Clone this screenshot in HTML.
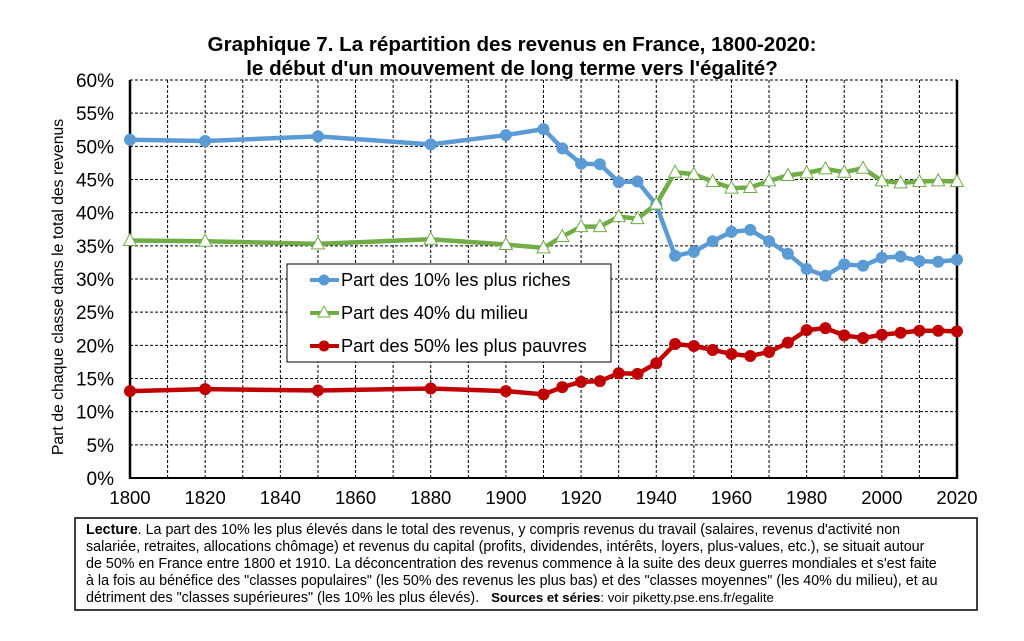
<!DOCTYPE html>
<html><head><meta charset="utf-8"><style>
body{margin:0;background:#fff;}
svg{display:block;font-family:"Liberation Sans",Arial,sans-serif;}
</style></head><body>
<svg id="s" width="1024" height="641" viewBox="0 0 1024 641" xmlns="http://www.w3.org/2000/svg">
<rect width="1024" height="641" fill="#fff"/>
<text x="512" y="51" text-anchor="middle" font-size="20.6" font-weight="bold">Graphique 7. La répartition des revenus en France, 1800-2020:</text>
<text x="512" y="75" text-anchor="middle" font-size="20.6" font-weight="bold">le début d'un mouvement de long terme vers l'égalité?</text>
<text transform="translate(63,287) rotate(-90)" text-anchor="middle" font-size="15.8">Part de chaque classe dans le total des revenus</text>
<g id="grid"></g>
<g id="series"></g>
<rect x="287" y="264" width="324" height="98" fill="#fff" stroke="#000" stroke-width="1"/>
<line x1="310" y1="280" x2="339" y2="280" stroke="#5b9bd5" stroke-width="4"/>
<circle cx="324" cy="280" r="5.5" fill="#5b9bd5"/>
<text x="341" y="286" font-size="18.2">Part des 10% les plus riches</text>
<line x1="310" y1="313" x2="339" y2="313" stroke="#70ad47" stroke-width="4"/>
<polygon points="324,306 330,317 318,317" fill="#fff" stroke="#70ad47" stroke-width="1"/>
<text x="341" y="319" font-size="18.2">Part des 40% du milieu</text>
<line x1="310" y1="346" x2="339" y2="346" stroke="#c00000" stroke-width="4"/>
<circle cx="324" cy="346" r="5.5" fill="#c00000"/>
<text x="341" y="352" font-size="18.2">Part des 50% les plus pauvres</text>
<rect x="75" y="518" width="902" height="92" fill="#fff" stroke="#000" stroke-width="1.5"/>
<g font-size="14.3">
<text x="86" y="534"><tspan font-weight="bold">Lecture</tspan>. La part des 10% les plus élevés dans le total des revenus, y compris revenus du travail (salaires, revenus d'activité non</text>
<text x="86" y="551">salariée, retraites, allocations chômage) et revenus du capital (profits, dividendes, intérêts, loyers, plus-values, etc.), se situait autour</text>
<text x="86" y="568">de 50% en France entre 1800 et 1910. La déconcentration des revenus commence à la suite des deux guerres mondiales et s'est faite</text>
<text x="86" y="585">à la fois au bénéfice des "classes populaires" (les 50% des revenus les plus bas) et des "classes moyennes" (les 40% du milieu), et au</text>
<text x="86" y="602">détriment des "classes supérieures" (les 10% les plus élevés). <tspan font-weight="bold" font-size="13.2" dx="8">Sources et séries</tspan><tspan font-size="13.2">: voir piketty.pse.ens.fr/egalite</tspan></text>
</g>
</svg>
<script>
(function(){
const NS="http://www.w3.org/2000/svg";
const X=y=>130+(y-1800)*827/220, Y=p=>478-p*6.633;
function el(t,a,p){const e=document.createElementNS(NS,t);for(const k in a)e.setAttribute(k,a[k]);p.appendChild(e);return e;}
const g=document.getElementById('grid');
for(let p=5;p<=60;p+=5)el('line',{x1:130,x2:957,y1:Y(p),y2:Y(p),stroke:'#000','stroke-width':1,'stroke-dasharray':'3,2'},g);
for(let y=1810;y<2020;y+=10)el('line',{x1:X(y),x2:X(y),y1:Y(60),y2:478,stroke:'#000','stroke-width':1,'stroke-dasharray':'3,2'},g);
el('line',{x1:130,x2:130,y1:Y(60),y2:479,stroke:'#000','stroke-width':2.5},g);
el('line',{x1:957,x2:957,y1:Y(60),y2:479,stroke:'#000','stroke-width':2.5},g);
el('line',{x1:129,x2:958,y1:478,y2:478,stroke:'#000','stroke-width':2},g);
for(let p=0;p<=60;p+=5){const t=el('text',{x:114,y:Y(p)+7,'text-anchor':'end','font-size':19},g);t.textContent=p+'%';}
for(let y=1800;y<=2020;y+=20){const t=el('text',{x:X(y),y:504,'text-anchor':'middle','font-size':18.5},g);t.textContent=y;}
const yrs=[1800,1820,1850,1880,1900,1910,1915,1920,1925,1930,1935,1940,1945,1950,1955,1960,1965,1970,1975,1980,1985,1990,1995,2000,2005,2010,2015,2020];
const dTop=[51,50.8,51.5,50.3,51.7,52.6,49.7,47.4,47.3,44.6,44.7,41.2,33.5,34.1,35.7,37.1,37.4,35.7,33.8,31.5,30.5,32.2,32.0,33.2,33.4,32.7,32.6,32.9];
const dMid=[35.8,35.7,35.3,36.0,35.2,34.7,36.4,37.9,37.9,39.4,39.1,41.3,46.1,45.8,44.7,43.7,43.8,44.8,45.6,46.0,46.6,46.1,46.7,44.8,44.5,44.7,44.8,44.7];
const dBot=[13.1,13.4,13.2,13.5,13.1,12.6,13.7,14.5,14.6,15.8,15.7,17.3,20.2,19.9,19.3,18.7,18.4,19.0,20.4,22.3,22.6,21.5,21.1,21.6,21.9,22.2,22.2,22.1];
const s=document.getElementById('series');
function series(d,c,tri){
 el('polyline',{points:yrs.map((y,i)=>X(y)+','+Y(d[i])).join(' '),fill:'none',stroke:c,'stroke-width':4.5,'stroke-linejoin':'round'},s);
 yrs.forEach((y,i)=>{const x=X(y),v=Y(d[i]);
  if(tri)el('polygon',{points:`${x},${v-7} ${x+6.5},${v+5} ${x-6.5},${v+5}`,fill:'#fff',stroke:c,'stroke-width':1},s);
  else el('circle',{cx:x,cy:v,r:6,fill:c},s);});
}
series(dTop,'#5b9bd5');series(dMid,'#70ad47',true);series(dBot,'#c00000');
})();
</script>
</body></html>
